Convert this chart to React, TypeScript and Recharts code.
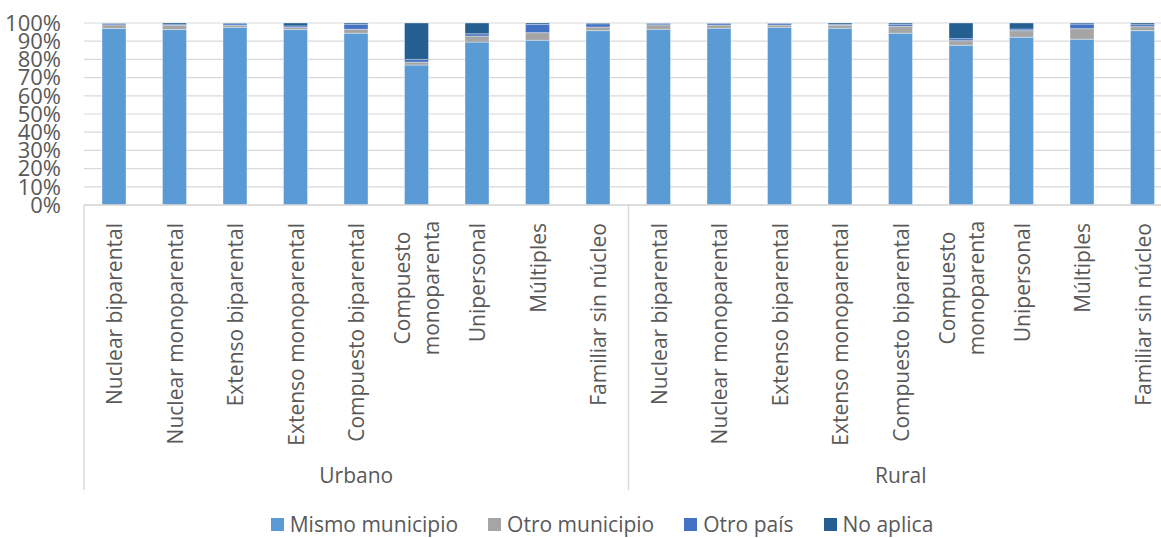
import React from 'react'
import { BarChart, Bar, XAxis, YAxis, CartesianGrid, Legend } from 'recharts'

const zonas = ['Urbano', 'Rural']
const tipos = [
  'Nuclear biparental',
  'Nuclear monoparental',
  'Extenso biparental',
  'Extenso monoparental',
  'Compuesto biparental',
  'Compuesto\nmonoparenta',
  'Unipersonal',
  'Múltiples',
  'Familiar sin núcleo',
]

// Urbano (9) then Rural (9), percent
const mismoMunicipio = [97.0, 96.4, 97.6, 96.4, 94.4, 76.9, 89.5, 90.5, 95.8, 96.5, 97.1, 97.6, 97.1, 94.4, 87.8, 92.2, 91.1, 95.8]
const otroMunicipio = [2.0, 2.2, 1.1, 1.1, 2.2, 1.6, 3.3, 4.2, 2.0, 2.5, 1.8, 1.3, 1.6, 3.8, 2.5, 3.6, 5.8, 2.2]
const otroPais = [0.8, 0.5, 0.9, 0.9, 2.7, 1.5, 1.3, 4.5, 1.8, 0.9, 1.0, 1.0, 0.5, 1.1, 1.1, 0.9, 2.5, 1.1]
const noAplica = [0.2, 0.9, 0.4, 1.6, 0.7, 20.0, 5.9, 0.8, 0.4, 0.1, 0.1, 0.1, 0.8, 0.7, 8.6, 3.3, 0.6, 0.9]

const yTicks = [0, 0.1, 0.2, 0.3, 0.4, 0.5, 0.6, 0.7, 0.8, 0.9, 1]

const series = [
  { key: 'mismo', name: 'Mismo municipio', color: '#5B9BD5', values: mismoMunicipio },
  { key: 'otroMun', name: 'Otro municipio', color: '#A5A5A5', values: otroMunicipio },
  { key: 'otroPais', name: 'Otro país', color: '#4472C4', values: otroPais },
  { key: 'noAplica', name: 'No aplica', color: '#255E91', values: noAplica },
]

const data = zonas.flatMap((zona, zi) =>
  tipos.map((tipo, ti) => {
    const i = zi * tipos.length + ti
    const row: Record<string, string | number> = { key: `${zona}-${ti}`, tipo, zona }
    series.forEach((s) => (row[s.key] = s.values[i]))
    return row
  })
)

const FONT = '"Open Sans", sans-serif'
const TEXT = '#595959'
const AXIS = '#D9D9D9'
const FS = 21

const CHART_W = 1180
const CHART_H = 538
const MARGIN = { top: 23, right: 7, bottom: 48, left: 0 }
const Y_W = 84
const X_H = 285
const plotW = CHART_W - MARGIN.left - MARGIN.right - Y_W
const band = plotW / data.length

function CategoryTick(props: any) {
  const { x, y, payload } = props
  const idx = payload.index
  const row = data[idx]
  const lines = String(row.tipo).split('\n')
  const n = tipos.length
  const out: React.ReactNode[] = []

  if (lines.length === 1) {
    const ty = y + 18
    out.push(
      <text key="l" x={x} y={ty} transform={`rotate(-90, ${x}, ${ty})`} textAnchor="end" dominantBaseline="central" fill={TEXT} fontSize={FS} fontFamily={FONT}>
        {lines[0]}
      </text>
    )
  } else {
    const cy = y + 83
    lines.forEach((ln, li) => {
      const lx = x + (li - (lines.length - 1) / 2) * 29
      out.push(
        <text key={'l' + li} x={lx} y={cy} transform={`rotate(-90, ${lx}, ${cy})`} textAnchor="middle" dominantBaseline="central" fill={TEXT} fontSize={FS} fontFamily={FONT}>
          {ln}
        </text>
      )
    })
  }

  if (idx % n === 0) {
    const sx = x - band / 2
    out.push(<line key="s" x1={sx} x2={sx} y1={y} y2={y + X_H} stroke={AXIS} strokeWidth={1.5} />)
  }
  if (idx % n === Math.floor(n / 2)) {
    const gx = n % 2 === 1 ? x : x + band / 2
    out.push(
      <text key="g" x={gx} y={y + 270} textAnchor="middle" dominantBaseline="central" fill={TEXT} fontSize={FS} fontFamily={FONT}>
        {row.zona}
      </text>
    )
  }
  return <g>{out}</g>
}

function LegendContent() {
  return (
    <div style={{ display: 'flex', justifyContent: 'center', gap: 30, fontFamily: FONT, fontSize: FS, color: TEXT }}>
      {series.map((s) => (
        <div key={s.key} style={{ display: 'flex', alignItems: 'center' }}>
          <span style={{ display: 'inline-block', width: 13, height: 13, background: s.color, marginRight: 6 }} />
          <span>{s.name}</span>
        </div>
      ))}
    </div>
  )
}

export default function App() {
  return (
    <div style={{ position: 'absolute', left: 0, top: 0, width: 1161, height: 538, overflow: 'hidden', background: '#fff' }}>
      <BarChart width={CHART_W} height={CHART_H} data={data} margin={MARGIN} stackOffset="expand" barSize={24}>
        <CartesianGrid vertical={false} stroke={AXIS} strokeWidth={1.2} />
        <XAxis
          dataKey="key"
          interval={0}
          height={X_H}
          tickLine={false}
          tickSize={0}
          tickMargin={0}
          axisLine={{ stroke: AXIS, strokeWidth: 1.5 }}
          tick={<CategoryTick />}
        />
        <YAxis
          width={Y_W}
          domain={[0, 1]}
          ticks={yTicks}
          interval={0}
          tickFormatter={(v: number) => `${Math.round(v * 100)}%`}
          axisLine={false}
          tickLine={false}
          tickMargin={17}
          tick={{ fill: TEXT, fontSize: 22, fontFamily: FONT }}
        />
        <Legend
          layout="horizontal"
          verticalAlign="middle"
          align="center"
          wrapperStyle={{ top: 510, left: 0, width: 1204 }}
          content={<LegendContent />}
        />
        {series.map((s) => (
          <Bar key={s.key} dataKey={s.key} name={s.name} stackId="a" fill={s.color} stroke="#ffffff" strokeOpacity={0.35} strokeWidth={1} isAnimationActive={false} />
        ))}
      </BarChart>
    </div>
  )
}
